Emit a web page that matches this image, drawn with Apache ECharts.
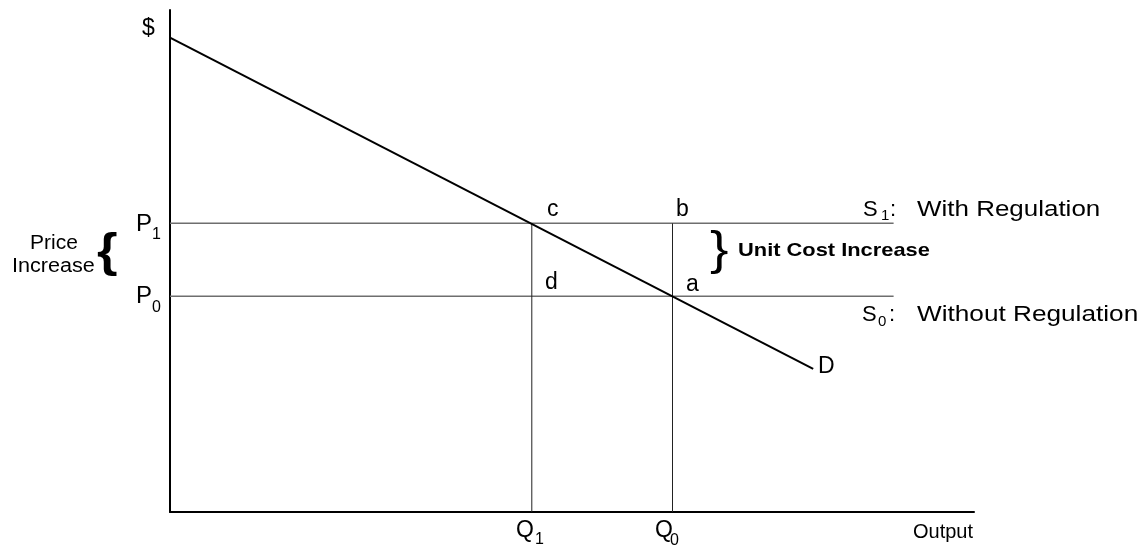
<!DOCTYPE html>
<html>
<head>
<meta charset="utf-8">
<script src="https://cdn.jsdelivr.net/npm/echarts@6/dist/echarts.min.js"></script>
<style>
  html, body { margin: 0; padding: 0; background: #fff; }
  #app { width: 1146px; height: 549px; }
</style>
</head>
<body>
<div id="app"></div>
<script>
const app = document.getElementById('app')
const chart = echarts.init(app)

// prices and quantities (axes run 0..100)
const P1 = 57.5
const P0 = 43
const Q1 = 45
const Q0 = 62.5
const demand = [[0, 94.5], [80, 28.5]]
const supplyEnd = 90

const FONT = 'Liberation Sans, Arial, sans-serif'

// one text element, left aligned, centred on y
function txt(x, y, text, size, extra) {
  extra = extra || {}
  return {
    type: 'text',
    x: x,
    y: y,
    scaleX: extra.scaleX || 1,
    z: 10,
    style: {
      text: text,
      fontSize: size,
      fontFamily: FONT,
      fontWeight: extra.bold ? 'bold' : 'normal',
      fill: '#000',
      align: 'left',
      verticalAlign: 'middle',
      textAlign: 'left',
      textVerticalAlign: 'middle'
    }
  }
}

const hLine = (y) => [[0, y], [supplyEnd, y]]
const vLine = (x) => [[x, 0], [x, P1]]

chart.setOption({
  animation: false,
  grid: {
    left: 170,
    top: 10,
    right: 172,
    bottom: 37
  },
  xAxis: {
    type: 'value',
    min: 0,
    max: 100,
    axisLine: { show: true, lineStyle: { color: '#000', width: 2 } },
    axisTick: { show: false },
    axisLabel: { show: false },
    splitLine: { show: false }
  },
  yAxis: {
    type: 'value',
    min: 0,
    max: 100,
    axisLine: { show: true, lineStyle: { color: '#000', width: 2 } },
    axisTick: { show: false },
    axisLabel: { show: false },
    splitLine: { show: false }
  },
  series: [
    {
      name: 'S1',
      type: 'line',
      data: hLine(P1),
      symbol: 'none',
      lineStyle: { color: '#6e6e6e', width: 1.5 }
    },
    {
      name: 'S0',
      type: 'line',
      data: hLine(P0),
      symbol: 'none',
      lineStyle: { color: '#6e6e6e', width: 1.5 }
    },
    {
      name: 'Q1',
      type: 'line',
      data: vLine(Q1),
      symbol: 'none',
      lineStyle: { color: '#222', width: 1 }
    },
    {
      name: 'Q0',
      type: 'line',
      data: vLine(Q0),
      symbol: 'none',
      lineStyle: { color: '#222', width: 1 }
    },
    {
      name: 'D',
      type: 'line',
      data: demand,
      symbol: 'none',
      z: 5,
      lineStyle: { color: '#000', width: 2 }
    }
  ],
  graphic: [
    txt(142, 29, '$', 23),
    txt(136, 224, 'P', 24), txt(152, 235, '1', 16),
    txt(136, 296, 'P', 24), txt(152, 308, '0', 16),
    txt(516, 531, 'Q', 23), txt(535, 540, '1', 16),
    txt(655, 531, 'Q', 23), txt(670, 541, '0', 16),
    txt(913, 532, 'Output', 20),
    txt(547, 210, 'c', 23),
    txt(676, 210, 'b', 23),
    txt(545, 283, 'd', 23),
    txt(686, 285, 'a', 23),
    txt(818, 367, 'D', 23),
    txt(863, 210, 'S', 22), txt(881, 216, '1', 15),
    txt(890, 210, ':', 22), txt(917, 210, 'With Regulation', 22, { scaleX: 1.18 }),
    txt(862, 315, 'S', 22), txt(878, 322, '0', 15),
    txt(889, 315, ':', 22), txt(917, 315, 'Without Regulation', 22, { scaleX: 1.19 }),
    txt(738, 251, 'Unit Cost Increase', 19, { bold: true, scaleX: 1.15 }),
    txt(710, 251, '}', 46, { scaleX: 1.2 }),
    txt(30, 243, 'Price', 20, { scaleX: 1.05 }),
    txt(12, 266, 'Increase', 20, { scaleX: 1.08 }),
    txt(97, 253, '{', 46, { bold: true, scaleX: 1.15 })
  ]
})
</script>
</body>
</html>
